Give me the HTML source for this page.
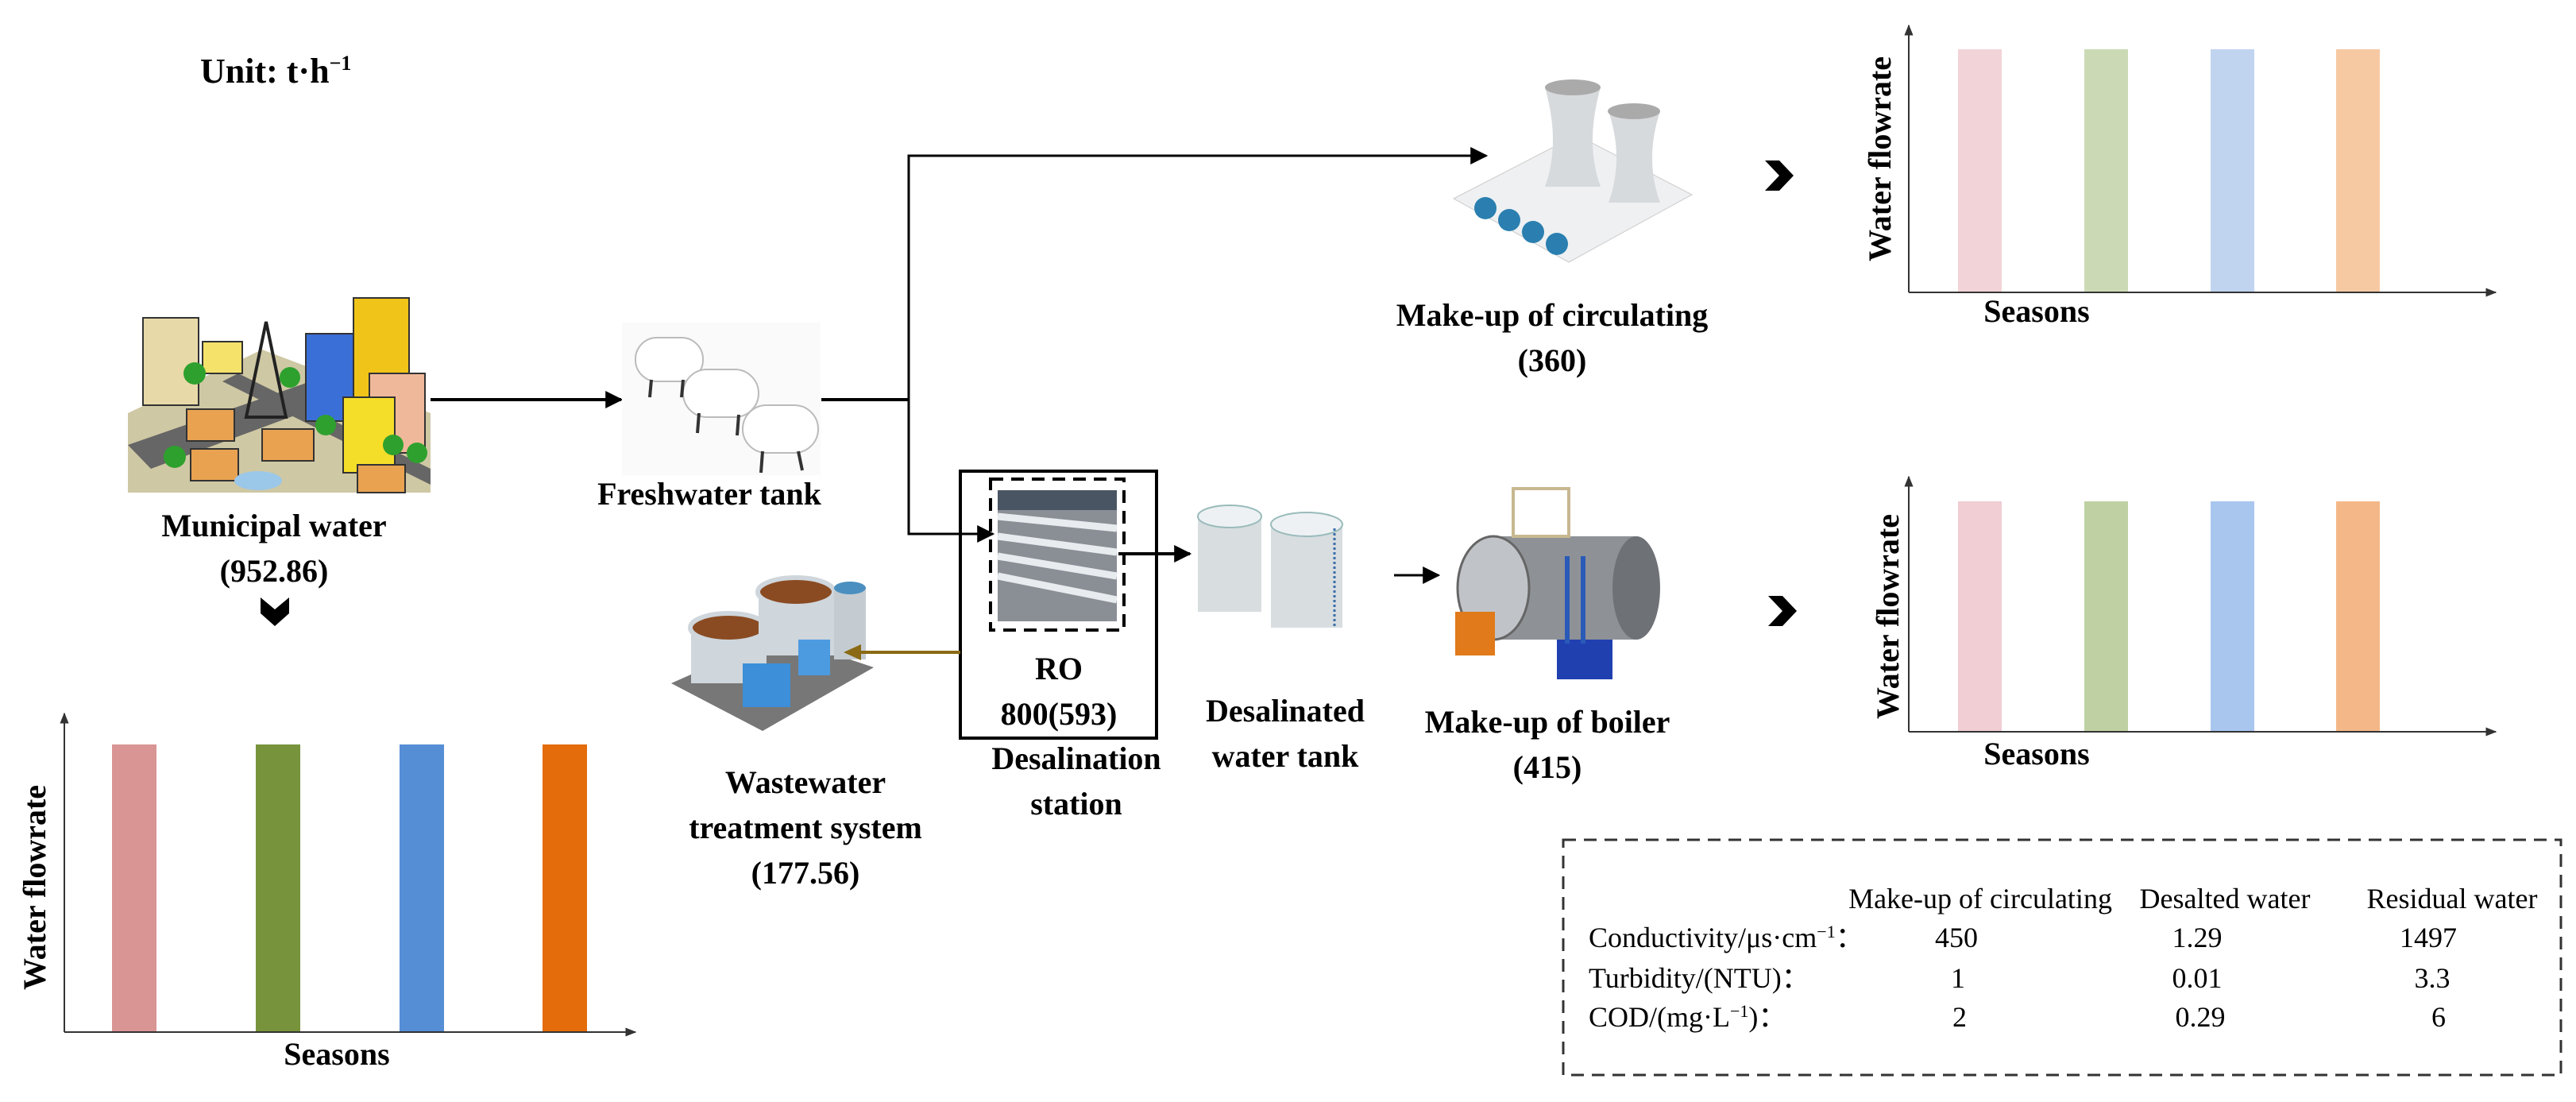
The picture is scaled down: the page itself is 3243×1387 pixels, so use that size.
<!DOCTYPE html>
<html><head><meta charset="utf-8"><style>
html,body{margin:0;padding:0;background:#fff;}
svg{display:block;}
text{font-family:"Liberation Serif",serif;}
.b{font-weight:bold;font-size:40px;}
.t{font-size:36px;}
</style></head><body>
<svg width="3243" height="1387" viewBox="0 0 3243 1387" xmlns="http://www.w3.org/2000/svg">
<defs>
<marker id="ahb" viewBox="0 0 10 10" refX="9" refY="5" markerWidth="22" markerHeight="22" orient="auto" markerUnits="userSpaceOnUse"><path d="M0,0 L10,5 L0,10 z" fill="#000"/></marker>
<marker id="axa" viewBox="0 0 10 10" refX="9" refY="5" markerWidth="14" markerHeight="14" orient="auto" markerUnits="userSpaceOnUse"><path d="M0,1 L10,5 L0,9 z" fill="#333"/></marker>
</defs>

<text x="252" y="104" class="b" style="font-size:44px">Unit:  t·h<tspan dy="-16" style="font-size:26px">−1</tspan></text>

<!-- City image -->
<g>
<polygon points="161,520 330,440 542,520 542,620 161,620" fill="#cfc8a4"/>
<polygon points="161,560 420,470 460,490 190,590" fill="#666"/>
<polygon points="300,470 542,590 542,610 280,480" fill="#666"/>
<rect x="180" y="400" width="70" height="110" fill="#e8d9a8" stroke="#333" stroke-width="2"/>
<rect x="255" y="430" width="50" height="40" fill="#f5e26a" stroke="#333" stroke-width="2"/>
<rect x="385" y="420" width="65" height="110" fill="#3a6fd8" stroke="#333" stroke-width="2"/>
<rect x="445" y="375" width="70" height="140" fill="#f0c419" stroke="#333" stroke-width="2"/>
<rect x="465" y="470" width="70" height="100" fill="#f0b89a" stroke="#333" stroke-width="2"/>
<rect x="432" y="500" width="65" height="95" fill="#f5de2a" stroke="#333" stroke-width="2"/>
<polygon points="335,405 310,525 360,525" fill="none" stroke="#222" stroke-width="4"/>
<rect x="235" y="515" width="60" height="40" fill="#e8a250" stroke="#333" stroke-width="2"/>
<rect x="330" y="540" width="65" height="40" fill="#e8a250" stroke="#333" stroke-width="2"/>
<rect x="240" y="565" width="60" height="40" fill="#e8a250" stroke="#333" stroke-width="2"/>
<rect x="450" y="585" width="60" height="35" fill="#e8a250" stroke="#333" stroke-width="2"/>
<circle cx="220" cy="575" r="14" fill="#2ea02e"/><circle cx="245" cy="470" r="14" fill="#2ea02e"/>
<circle cx="365" cy="475" r="13" fill="#2ea02e"/><circle cx="410" cy="535" r="13" fill="#2ea02e"/>
<circle cx="495" cy="560" r="13" fill="#2ea02e"/><circle cx="525" cy="570" r="13" fill="#2ea02e"/>
<ellipse cx="325" cy="605" rx="30" ry="12" fill="#9bc7e8"/>
</g>
<line x1="542" y1="503" x2="782" y2="503" stroke="#000" stroke-width="4" marker-end="url(#ahb)"/>

<!-- Freshwater tank -->
<rect x="783" y="406" width="250" height="192" fill="#fafafa"/>
<g fill="#fff" stroke="#bbb" stroke-width="2">
<rect x="800" y="425" width="85" height="55" rx="27"/><rect x="860" y="465" width="95" height="60" rx="30"/><rect x="935" y="510" width="95" height="60" rx="30"/>
</g>
<g stroke="#333" stroke-width="4"><line x1="820" y1="478" x2="818" y2="500"/><line x1="860" y1="478" x2="858" y2="500"/><line x1="880" y1="520" x2="878" y2="545"/><line x1="930" y1="522" x2="928" y2="548"/><line x1="960" y1="568" x2="958" y2="595"/><line x1="1005" y1="568" x2="1010" y2="592"/></g>
<text x="893" y="635" class="b" text-anchor="middle">Freshwater tank</text>
<text x="345" y="675" class="b" text-anchor="middle">Municipal water</text>
<text x="345" y="732" class="b" text-anchor="middle">(952.86)</text>
<polygon points="328,752 346,767 364,752 364,772 346,788 328,772" fill="#000"/>

<!-- connectors -->
<polyline points="1034,503 1144,503" fill="none" stroke="#000" stroke-width="4"/>
<polyline points="1144,503 1144,196 1871,196" fill="none" stroke="#000" stroke-width="3" marker-end="url(#ahb)"/>
<polyline points="1144,503 1144,672 1250,672" fill="none" stroke="#000" stroke-width="3" marker-end="url(#ahb)"/>

<!-- RO box -->
<rect x="1209" y="593" width="247" height="336" fill="none" stroke="#000" stroke-width="4"/>
<rect x="1247" y="603" width="168" height="190" fill="none" stroke="#000" stroke-width="4" stroke-dasharray="16,10"/>
<rect x="1256" y="617" width="150" height="165" fill="#8a8f96"/>
<g stroke="#e8ecef" stroke-width="9"><line x1="1256" y1="650" x2="1406" y2="665"/><line x1="1256" y1="675" x2="1406" y2="695"/><line x1="1256" y1="700" x2="1406" y2="725"/><line x1="1256" y1="725" x2="1406" y2="755"/></g>
<rect x="1256" y="617" width="150" height="25" fill="#4a5563"/>
<text x="1333" y="855" class="b" text-anchor="middle">RO</text>
<text x="1333" y="912" class="b" text-anchor="middle">800(593)</text>
<text x="1355" y="968" class="b" text-anchor="middle">Desalination</text>
<text x="1355" y="1025" class="b" text-anchor="middle">station</text>
<line x1="1408" y1="697" x2="1498" y2="697" stroke="#000" stroke-width="4" marker-end="url(#ahb)"/>

<!-- Wastewater -->
<g>
<polygon points="845,860 980,800 1100,840 960,920" fill="#777"/>
<rect x="870" y="790" width="95" height="70" fill="#cfd6dc"/><ellipse cx="917" cy="790" rx="48" ry="18" fill="#8a4b22" stroke="#cfd6dc" stroke-width="6"/>
<rect x="955" y="745" width="95" height="80" fill="#cfd6dc"/><ellipse cx="1002" cy="745" rx="48" ry="18" fill="#8a4b22" stroke="#cfd6dc" stroke-width="6"/>
<rect x="1050" y="740" width="40" height="90" fill="#c4ccd2"/><ellipse cx="1070" cy="740" rx="20" ry="8" fill="#4a8fc0"/>
<rect x="935" y="835" width="60" height="55" fill="#3c8fd8"/><rect x="1005" y="805" width="40" height="45" fill="#4c9ae0"/>
</g>
<line x1="1209" y1="821" x2="1080" y2="821" stroke="#8a6a14" stroke-width="4"/>
<polygon points="1062,821 1084,811 1084,831" fill="#8a6a14"/>
<text x="1014" y="998" class="b" text-anchor="middle">Wastewater</text>
<text x="1014" y="1055" class="b" text-anchor="middle">treatment system</text>
<text x="1014" y="1112" class="b" text-anchor="middle">(177.56)</text>

<!-- Desal tank -->
<g>
<rect x="1508" y="650" width="80" height="120" fill="#d8dde0"/><ellipse cx="1548" cy="650" rx="40" ry="14" fill="#eef1f3" stroke="#9bb" stroke-width="2"/>
<rect x="1600" y="660" width="90" height="130" fill="#d8dde0"/><ellipse cx="1645" cy="660" rx="45" ry="15" fill="#eef1f3" stroke="#9bb" stroke-width="2"/>
<line x1="1680" y1="665" x2="1680" y2="790" stroke="#3a6ea8" stroke-width="3" stroke-dasharray="3,3"/>
</g>
<text x="1618" y="908" class="b" text-anchor="middle">Desalinated</text>
<text x="1618" y="965" class="b" text-anchor="middle">water tank</text>
<line x1="1755" y1="724" x2="1811" y2="724" stroke="#000" stroke-width="3" marker-end="url(#ahb)"/>

<!-- Boiler -->
<g>
<rect x="1880" y="675" width="180" height="130" fill="#8e9296"/>
<ellipse cx="2060" cy="740" rx="30" ry="65" fill="#6e7276"/>
<ellipse cx="1880" cy="740" rx="45" ry="65" fill="#c0c4c8" stroke="#666" stroke-width="3"/>
<rect x="1905" y="615" width="70" height="60" fill="none" stroke="#c8b890" stroke-width="4"/>
<rect x="1832" y="770" width="50" height="55" fill="#e07a1a"/>
<rect x="1960" y="805" width="70" height="50" fill="#2040b0"/>
<rect x="1970" y="700" width="6" height="110" fill="#2a5ab8"/><rect x="1990" y="700" width="6" height="110" fill="#2a5ab8"/>
</g>
<text x="1948" y="922" class="b" text-anchor="middle">Make-up of boiler</text>
<text x="1948" y="979" class="b" text-anchor="middle">(415)</text>

<!-- Cooling tower -->
<g>
<polygon points="1830,250 1985,170 2130,245 1975,330" fill="#eef0f2" stroke="#ccc"/>
<path d="M1945,110 Q1965,180 1945,235 L2015,235 Q1995,180 2015,110 z" fill="#d7dadd"/>
<ellipse cx="1980" cy="110" rx="35" ry="10" fill="#aaa"/>
<path d="M2025,140 Q2045,200 2025,255 L2090,255 Q2070,200 2090,140 z" fill="#d7dadd"/>
<ellipse cx="2057" cy="140" rx="33" ry="10" fill="#aaa"/>
<circle cx="1870" cy="262" r="14" fill="#2a7fb0"/><circle cx="1900" cy="277" r="14" fill="#2a7fb0"/><circle cx="1930" cy="292" r="14" fill="#2a7fb0"/><circle cx="1960" cy="307" r="14" fill="#2a7fb0"/>
</g>
<text x="1954" y="410" class="b" text-anchor="middle">Make-up of circulating</text>
<text x="1954" y="467" class="b" text-anchor="middle">(360)</text>

<polygon points="2222,202 2240,202 2258,221 2240,240 2222,240 2240,221" fill="#000"/>
<polygon points="2226,750 2244,750 2262,769 2244,788 2226,788 2244,769" fill="#000"/>

<!-- Top chart -->
<g>
<rect x="2465" y="62" width="55" height="306" fill="#f2d3d7"/>
<rect x="2624" y="62" width="55" height="306" fill="#cbdab4"/>
<rect x="2783" y="62" width="55" height="306" fill="#c0d4f0"/>
<rect x="2941" y="62" width="55" height="306" fill="#f6c9a3"/>
<line x1="2403" y1="368" x2="2403" y2="32" stroke="#333" stroke-width="2" marker-end="url(#axa)"/>
<line x1="2403" y1="368" x2="3142" y2="368" stroke="#333" stroke-width="2" marker-end="url(#axa)"/>
<text x="2564" y="405" class="b" text-anchor="middle">Seasons</text>
<text transform="translate(2380,200) rotate(-90)" class="b" text-anchor="middle">Water flowrate</text>
</g>
<!-- Bottom-right chart -->
<g>
<rect x="2465" y="631" width="55" height="290" fill="#f0ced4"/>
<rect x="2624" y="631" width="55" height="290" fill="#bfd1a3"/>
<rect x="2783" y="631" width="55" height="290" fill="#a9c6ef"/>
<rect x="2941" y="631" width="55" height="290" fill="#f4b888"/>
<line x1="2403" y1="921" x2="2403" y2="600" stroke="#333" stroke-width="2" marker-end="url(#axa)"/>
<line x1="2403" y1="921" x2="3142" y2="921" stroke="#333" stroke-width="2" marker-end="url(#axa)"/>
<text x="2564" y="962" class="b" text-anchor="middle">Seasons</text>
<text transform="translate(2390,776) rotate(-90)" class="b" text-anchor="middle">Water flowrate</text>
</g>
<!-- Bottom-left chart -->
<g>
<rect x="141" y="937" width="56" height="362" fill="#d99594"/>
<rect x="322" y="937" width="56" height="362" fill="#77933c"/>
<rect x="503" y="937" width="56" height="362" fill="#558ed5"/>
<rect x="683" y="937" width="56" height="362" fill="#e46c0a"/>
<line x1="81" y1="1299" x2="81" y2="898" stroke="#333" stroke-width="2" marker-end="url(#axa)"/>
<line x1="81" y1="1299" x2="800" y2="1299" stroke="#333" stroke-width="2" marker-end="url(#axa)"/>
<text x="424" y="1340" class="b" text-anchor="middle">Seasons</text>
<text transform="translate(57,1117) rotate(-90)" class="b" text-anchor="middle">Water flowrate</text>
</g>

<!-- Table -->
<rect x="1968" y="1057" width="1256" height="296" fill="none" stroke="#333" stroke-width="3" stroke-dasharray="16,10"/>
<g>
<text x="2493" y="1143" text-anchor="middle" class="t">Make-up of circulating</text>
<text x="2801" y="1143" text-anchor="middle" class="t">Desalted water</text>
<text x="3087" y="1143" text-anchor="middle" class="t">Residual water</text>
<text x="2000" y="1192" class="t">Conductivity/μs·cm<tspan dy="-12" style="font-size:22px">−1</tspan><tspan dy="12">：</tspan></text>
<text x="2000" y="1243" class="t">Turbidity/(NTU)：</text>
<text x="2000" y="1292" class="t">COD/(mg·L<tspan dy="-12" style="font-size:22px">−1</tspan><tspan dy="12">)：</tspan></text>
<text x="2463" y="1192" text-anchor="middle" class="t">450</text>
<text x="2766" y="1192" text-anchor="middle" class="t">1.29</text>
<text x="3057" y="1192" text-anchor="middle" class="t">1497</text>
<text x="2465" y="1243" text-anchor="middle" class="t">1</text>
<text x="2766" y="1243" text-anchor="middle" class="t">0.01</text>
<text x="3062" y="1243" text-anchor="middle" class="t">3.3</text>
<text x="2467" y="1292" text-anchor="middle" class="t">2</text>
<text x="2770" y="1292" text-anchor="middle" class="t">0.29</text>
<text x="3070" y="1292" text-anchor="middle" class="t">6</text>
</g>
</svg>
</body></html>
